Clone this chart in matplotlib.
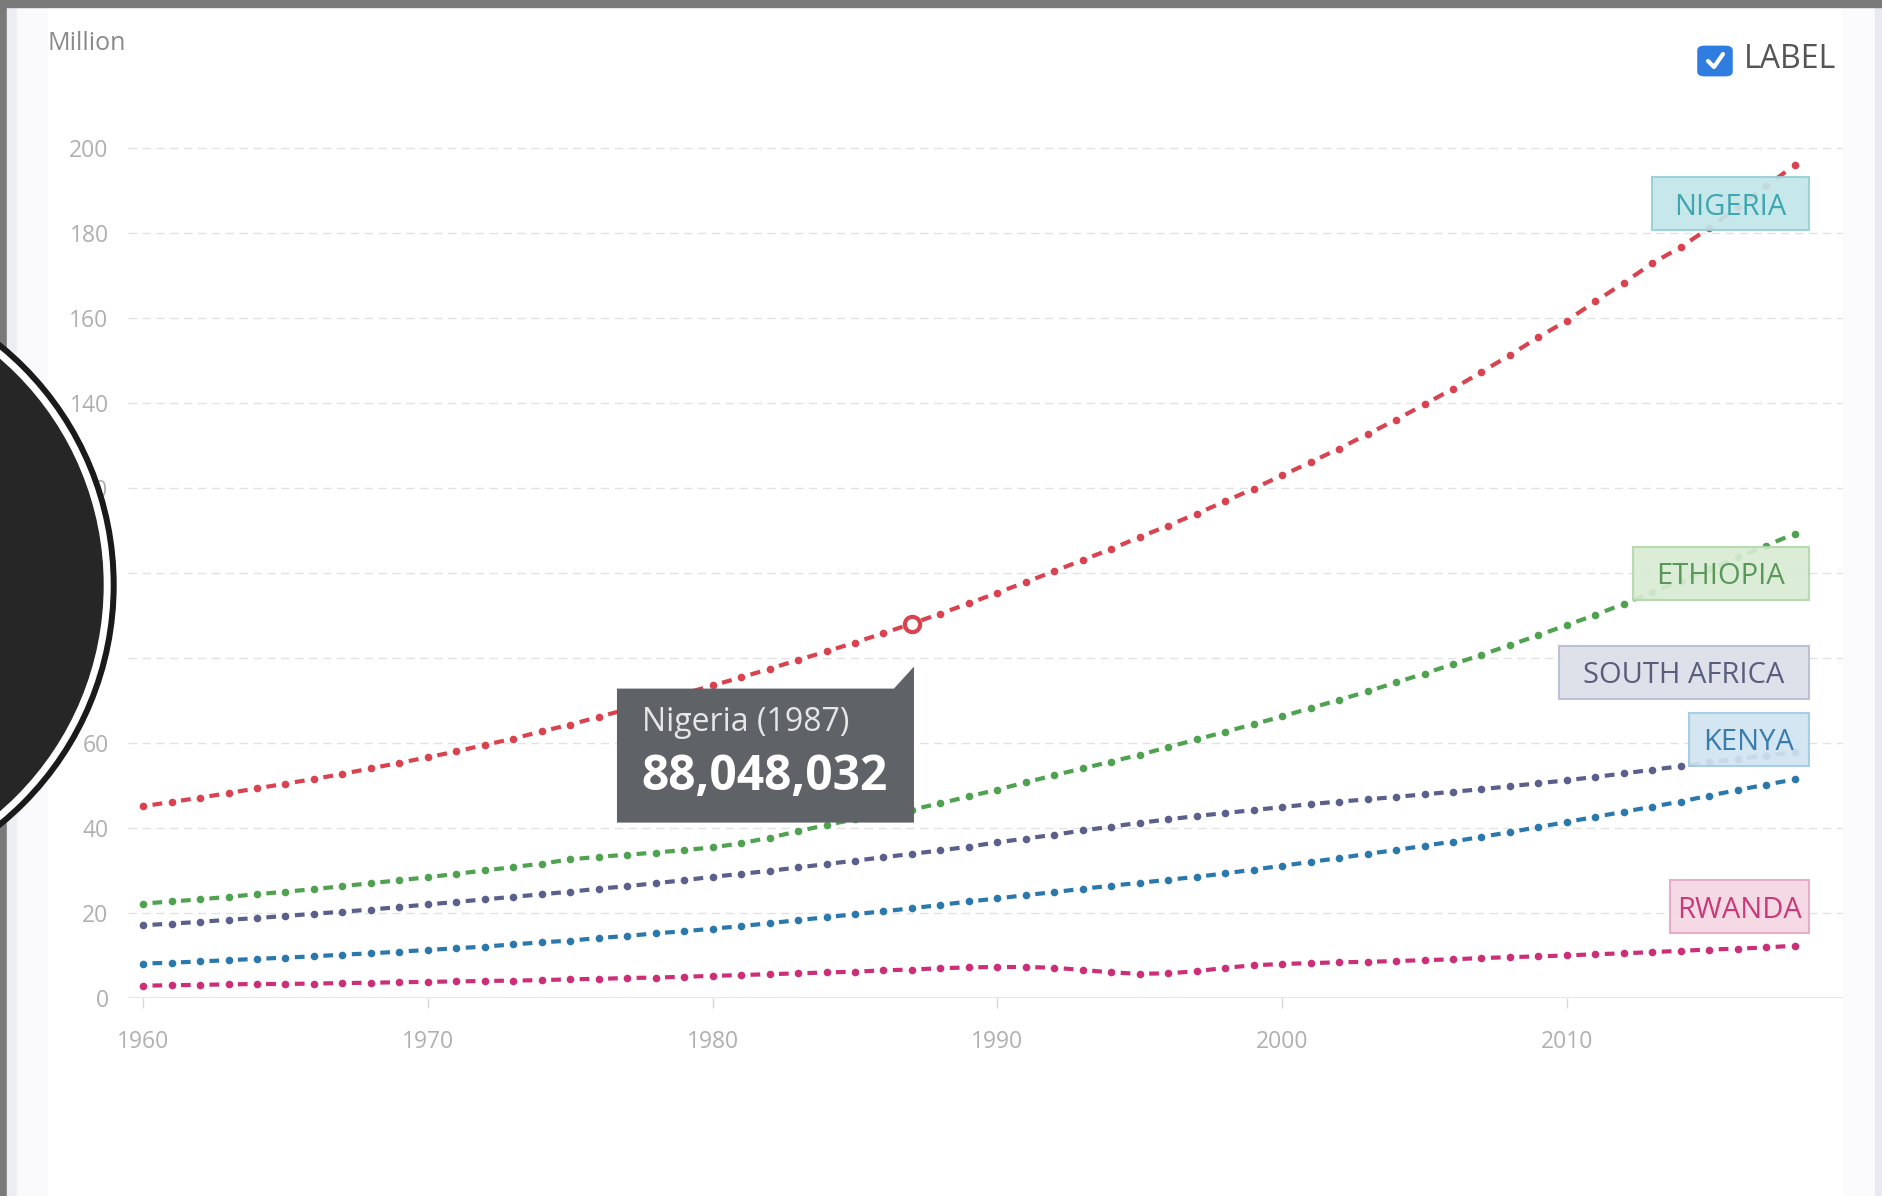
import matplotlib
matplotlib.use('Agg')
import matplotlib.pyplot as plt
from matplotlib import patches, transforms
from matplotlib.collections import LineCollection

# population in millions, 1960-2018
years = list(range(1960, 2019))
nigeria = [45.1, 46.1, 47.1, 48.2, 49.3, 50.4, 51.5, 52.7, 54.0, 55.3,
           56.6, 58.0, 59.5, 61.0, 62.7, 64.3, 66.1, 67.9, 69.7, 71.6,
           73.5, 75.4, 77.4, 79.5, 81.5, 83.6, 85.8, 88.048, 90.4, 92.8,
           95.3, 97.8, 100.4, 103.0, 105.6, 108.4, 111.1, 113.9, 116.8, 119.8,
           122.9, 126.0, 129.2, 132.6, 136.0, 139.6, 143.3, 147.2, 151.2, 155.4,
           159.3, 163.8, 168.2, 172.8, 176.6, 181.1, 185.9, 190.9, 195.9]
ethiopia = [22.2, 22.7, 23.2, 23.8, 24.4, 25.0, 25.6, 26.3, 27.0, 27.7,
            28.4, 29.2, 30.0, 30.8, 31.6, 32.6, 33.2, 33.7, 34.2, 34.8,
            35.4, 36.4, 37.7, 39.2, 40.7, 42.0, 43.1, 44.3, 45.8, 47.4,
            49.0, 50.7, 52.4, 54.0, 55.6, 57.2, 59.0, 60.8, 62.6, 64.4,
            66.2, 68.2, 70.1, 72.1, 74.2, 76.3, 78.5, 80.7, 83.0, 85.3,
            87.7, 90.1, 92.7, 95.4, 98.1, 100.8, 103.6, 106.4, 109.2]
south_africa = [17.1, 17.5, 17.9, 18.4, 18.8, 19.3, 19.8, 20.3, 20.8, 21.4,
                22.0, 22.6, 23.2, 23.8, 24.4, 25.0, 25.7, 26.3, 27.0, 27.7,
                28.5, 29.2, 29.9, 30.7, 31.5, 32.3, 33.1, 33.9, 34.7, 35.6,
                36.6, 37.5, 38.4, 39.4, 40.3, 41.2, 42.0, 42.8, 43.5, 44.2,
                44.9, 45.6, 46.2, 46.7, 47.3, 47.9, 48.5, 49.1, 49.8, 50.5,
                51.2, 52.0, 52.8, 53.7, 54.5, 55.4, 56.2, 57.0, 57.8]
kenya = [8.1, 8.3, 8.6, 8.9, 9.2, 9.5, 9.8, 10.2, 10.5, 10.9,
         11.3, 11.7, 12.1, 12.6, 13.1, 13.5, 14.1, 14.6, 15.2, 15.7,
         16.3, 16.9, 17.6, 18.3, 19.0, 19.7, 20.4, 21.1, 21.9, 22.7,
         23.4, 24.2, 24.9, 25.7, 26.4, 27.1, 27.8, 28.5, 29.3, 30.2,
         31.1, 32.0, 32.9, 33.9, 34.8, 35.8, 36.8, 37.9, 39.0, 40.2,
         41.4, 42.6, 43.8, 45.0, 46.2, 47.6, 48.9, 50.2, 51.4]
rwanda = [2.9, 3.0, 3.1, 3.2, 3.3, 3.3, 3.4, 3.5, 3.6, 3.7,
          3.8, 3.9, 4.0, 4.1, 4.2, 4.4, 4.5, 4.7, 4.8, 5.0,
          5.2, 5.4, 5.6, 5.8, 6.0, 6.2, 6.5, 6.7, 7.0, 7.2,
          7.3, 7.3, 7.1, 6.6, 6.0, 5.7, 5.8, 6.3, 7.1, 7.7,
          8.0, 8.2, 8.4, 8.5, 8.7, 8.9, 9.1, 9.4, 9.6, 9.8,
          10.0, 10.3, 10.5, 10.8, 11.1, 11.4, 11.6, 11.9, 12.3]

names = ['NIGERIA', 'ETHIOPIA', 'SOUTH AFRICA', 'KENYA', 'RWANDA']
series = [nigeria, ethiopia, south_africa, kenya, rwanda]
line_colors = ['#d9434f', '#4fa24f', '#5a5f8c', '#2b78ad', '#cc2f78']
box_fill = ['#c3e6ea', '#d8ebd4', '#dddfe9', '#d0e4f1', '#f5d6e3']
box_edge = ['#97d0d6', '#b2d8ab', '#babdd3', '#a3cbe3', '#e5aac4']
box_text = ['#3fa6b0', '#5a985a', '#595e7e', '#3a7cab', '#c83a7a']
label_y = [186.8, 99.9, 76.6, 60.9, 21.4]
label_w = [1.57, 1.76, 2.50, 1.20, 1.39]

yticks = [0, 20, 40, 60, 80, 100, 120, 140, 160, 180, 200]
xticks = [1960, 1970, 1980, 1990, 2000, 2010]

tip_name = 'Nigeria'
tip_year = 1987
tip_value = 88048032

plt.rcParams['font.family'] = ['Open Sans', 'DejaVu Sans']

fig = plt.figure(figsize=(18.83, 11.96), dpi=100)
W, H = 1883, 1196

# screenshot frame
fig.patches.append(patches.Rectangle((0, 0), 7 / W, 1, transform=fig.transFigure, color='#7a7a7a', zorder=0))
fig.patches.append(patches.Rectangle((7 / W, 0), 10 / W, 1, transform=fig.transFigure, color='#eceef3', zorder=0))
fig.patches.append(patches.Rectangle((17 / W, 0), 30 / W, 1, transform=fig.transFigure, color='#fafafc', zorder=0))
fig.patches.append(patches.Rectangle((1843 / W, 0), 32 / W, 1, transform=fig.transFigure, color='#fbfbfd', zorder=0))
fig.patches.append(patches.Rectangle((1875 / W, 0), 8 / W, 1, transform=fig.transFigure, color='#e9eaf0', zorder=0))
fig.patches.append(patches.Rectangle((0, 1 - 7 / H), 1, 7 / H, transform=fig.transFigure, color='#7a7a7a', zorder=0))

ax = fig.add_axes([128 / W, 1 - 998 / H, (1846 - 128) / W, (998 - 105) / H])
ax.set_facecolor('none')
ax.set_xlim(1959.47, 2019.8)
ax.set_ylim(0, 210)
for s in ax.spines.values():
    s.set_visible(False)

ax.set_yticks(yticks)
ax.set_xticks(xticks)
ax.yaxis.grid(True, linestyle=(0, (6, 4)), color='#e2e2e2', linewidth=1)
ax.axhline(0, color='#e2e2e2', linewidth=2, zorder=1)
ax.tick_params(axis='y', length=0, pad=14, labelsize=16.5, labelcolor='#b0b0b0')
ax.tick_params(axis='x', length=7, width=1, color='#d8d8d8', pad=16, labelsize=16.5, labelcolor='#b0b0b0')

# dotted lines: a dot on every year and a short dash between
for vals, c in zip(series, line_colors):
    segs = []
    for i in range(len(years) - 1):
        x0, x1 = years[i], years[i + 1]
        y0, y1 = vals[i], vals[i + 1]
        segs.append([(x0 + 0.33 * (x1 - x0), y0 + 0.33 * (y1 - y0)),
                     (x0 + 0.67 * (x1 - x0), y0 + 0.67 * (y1 - y0))])
    ax.add_collection(LineCollection(segs, colors=c, linewidths=3, capstyle='butt', zorder=3))
    ax.plot(years, vals, linestyle='none', marker='o', markersize=5.5,
            markerfacecolor=c, markeredgewidth=0, zorder=3)

# label boxes at the right end
for name, y, w, fc, ec, tc in zip(names, label_y, label_w, box_fill, box_edge, box_text):
    tr = fig.dpi_scale_trans + transforms.ScaledTranslation(2018.5, y, ax.transData)
    ax.add_patch(patches.Rectangle((-w, -0.265), w, 0.53, transform=tr, facecolor=fc,
                                   edgecolor=ec, linewidth=1.5, alpha=0.92, zorder=4))
    ax.text(-w / 2, -0.035, name, transform=tr, ha='center', va='center',
            fontsize=21, color=tc, zorder=5)

# hovered point + tooltip
tip_y = nigeria[years.index(tip_year)]
ax.plot(tip_year, tip_y, marker='o', markersize=11, markerfacecolor='white',
        markeredgecolor=line_colors[0], markeredgewidth=3, zorder=6)
tr = fig.dpi_scale_trans + transforms.ScaledTranslation(tip_year, tip_y, ax.transData)
tip = [(-2.95, -0.65), (-0.18, -0.65), (0.02, -0.43), (0.02, -1.99), (-2.95, -1.99)]
ax.add_patch(patches.Polygon(tip, closed=True, transform=tr, facecolor='#5f6266',
                             edgecolor='none', zorder=7))
ax.text(-2.70, -0.99, f'{tip_name} ({tip_year})', transform=tr, ha='left', va='center',
        fontsize=23, color='#e6e6e6', zorder=8)
ax.text(-2.71, -1.54, f'{tip_value:,}', transform=tr, ha='left', va='center',
        fontsize=34.5, fontweight='bold', color='white', zorder=8)

# unit label
fig.text(48 / W, 1 - 43 / H, 'Million', ha='left', va='center', fontsize=18, color='#8a8a8a')

# LABEL checkbox
fig.patches.append(patches.FancyBboxPatch((1701 / W, 1 - 74 / H), 28 / W, 26 / H,
                                          boxstyle='round,pad=0.002,rounding_size=0.004',
                                          transform=fig.transFigure, facecolor='#2f7de1',
                                          edgecolor='none', zorder=5))
fig.lines.append(plt.Line2D([1708 / W, 1714 / W, 1723 / W], [1 - 61 / H, 1 - 67 / H, 1 - 54 / H],
                            transform=fig.transFigure, color='white', linewidth=3,
                            solid_capstyle='round', solid_joinstyle='round', zorder=6))
fig.text(1744 / W, 1 - 60 / H, 'LABEL', ha='left', va='center', fontsize=23, color='#555555')

# overlay circle on the left edge
ctr = (-1.95, (H - 585) / 100)
fig.patches.append(patches.Circle(ctr, 3.11, transform=fig.dpi_scale_trans, color='#1a1a1a', zorder=10))
fig.patches.append(patches.Circle(ctr, 3.05, transform=fig.dpi_scale_trans, color='white', zorder=10))
fig.patches.append(patches.Circle(ctr, 2.98, transform=fig.dpi_scale_trans, color='#262626', zorder=10))

fig.savefig('out.png', dpi=100)
